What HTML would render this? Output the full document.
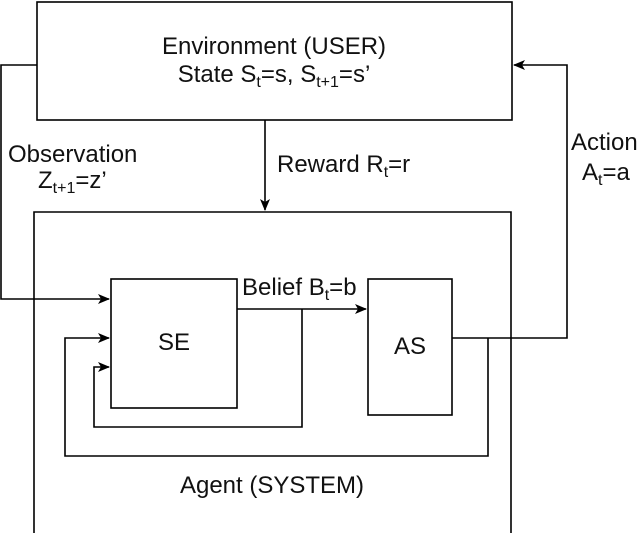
<!DOCTYPE html>
<html><head><style>
body{margin:0;background:#fff;}
svg text{font-family:"Liberation Sans",Arial,sans-serif;font-size:24px;fill:#111;}
</style></head><body>
<svg width="640" height="533" viewBox="0 0 640 533" xmlns="http://www.w3.org/2000/svg">
<defs><marker id="a" markerWidth="12" markerHeight="12" refX="11" refY="6" orient="auto" markerUnits="userSpaceOnUse"><path d="M0,1 L12,6 L0,11 L3,6 Z" fill="#000"/></marker></defs>
<g fill="none" stroke="#000" stroke-width="1.6">
<rect x="37" y="2" width="475" height="118"/>
<path d="M34,533 V212 H511 V533"/>
<rect x="111" y="279" width="126" height="129"/>
<rect x="368" y="279" width="84" height="136"/>
<path d="M37,65 H1 V299 H109" marker-end="url(#a)"/>
<path d="M265,120 V210" marker-end="url(#a)"/>
<path d="M452,338 H567 V65 H514" marker-end="url(#a)"/>
<path d="M237,309 H366" marker-end="url(#a)"/>
<path d="M302,309 V427 H94 V367 H109" marker-end="url(#a)"/>
<path d="M488,338 V456 H65 V338 H109" marker-end="url(#a)"/>
</g>
<text x="274" y="54" text-anchor="middle">Environment (USER)</text>
<text x="274" y="82" text-anchor="middle">State S<tspan font-size="16" dy="5">t</tspan><tspan dy="-5">=s, S</tspan><tspan font-size="16" dy="5">t+1</tspan><tspan dy="-5">=s’</tspan></text>
<text x="8" y="162">Observation</text>
<text x="38" y="188">Z<tspan font-size="16" dy="5">t+1</tspan><tspan dy="-5">=z’</tspan></text>
<text x="277" y="172">Reward R<tspan font-size="16" dy="5">t</tspan><tspan dy="-5">=r</tspan></text>
<text x="571" y="150">Action</text>
<text x="582" y="180">A<tspan font-size="16" dy="5">t</tspan><tspan dy="-5">=a</tspan></text>
<text x="242" y="295">Belief B<tspan font-size="16" dy="5">t</tspan><tspan dy="-5">=b</tspan></text>
<text x="174" y="350" text-anchor="middle">SE</text>
<text x="410" y="354" text-anchor="middle">AS</text>
<text x="272" y="493" text-anchor="middle">Agent (SYSTEM)</text>
</svg>
</body></html>
